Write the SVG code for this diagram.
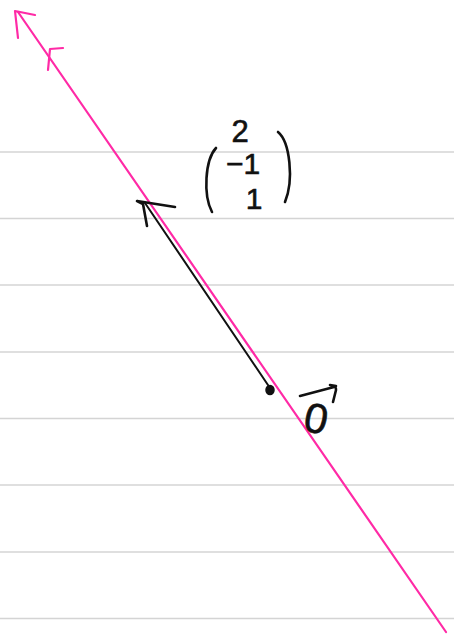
<svg xmlns="http://www.w3.org/2000/svg" width="454" height="640" viewBox="0 0 454 640">
<style>
.rule{stroke:#d4d4d4;stroke-width:1.5}
.pink{stroke:#ff2aa6;stroke-width:2.2;fill:none;stroke-linecap:round;stroke-linejoin:round}
.ink{stroke:#111;stroke-width:2.6;fill:none;stroke-linecap:round;stroke-linejoin:round}
.hand{font-family:"Liberation Sans",Arial,sans-serif;fill:#111;stroke:#111;stroke-width:0.6}
</style>
<rect width="454" height="640" fill="#fff"/>
<g id="rules">
<line class="rule" x1="0" y1="152" x2="454" y2="152"/>
<line class="rule" x1="0" y1="218.5" x2="454" y2="218.5"/>
<line class="rule" x1="0" y1="285" x2="454" y2="285"/>
<line class="rule" x1="0" y1="352" x2="454" y2="352"/>
<line class="rule" x1="0" y1="418.5" x2="454" y2="418.5"/>
<line class="rule" x1="0" y1="485" x2="454" y2="485"/>
<line class="rule" x1="0" y1="552" x2="454" y2="552"/>
<line class="rule" x1="0" y1="618.5" x2="454" y2="618.5"/>
</g>
<g id="line">
<path class="pink" d="M18 12 L446 632"/>
<path class="pink" d="M18 38 L15 11 L35 15"/>
<path class="pink" d="M48 70 L50 49 L63 48"/>
</g>
<g id="vector">
<path class="ink" style="stroke-width:2" d="M270 388 L145 203"/>
<path class="ink" d="M147 226 L143 204 L137 201 L175 207"/>
<ellipse cx="270" cy="390" rx="4" ry="4.5" fill="#111" stroke="#111" stroke-width="1.5"/>
</g>
<g id="label-vector">
<path class="ink" d="M216 148 C205 160 203 195 212 212"/>
<path class="ink" d="M278 132 C290 142 294 180 285 202"/>
<text class="hand" x="240" y="142" font-size="31" text-anchor="middle">2</text>
<text class="hand" x="243" y="174" font-size="30" text-anchor="middle">−1</text>
<text class="hand" x="254" y="209" font-size="30" text-anchor="middle">1</text>
</g>
<g id="label-zero">
<path class="ink" d="M300 396 L334 387 C335 386 336 387 336 390 L333 402 M330 385 L336 386"/>
<text class="hand" x="316" y="433" font-size="42" text-anchor="middle" transform="rotate(12 316 420)">0</text>
</g>
</svg>
